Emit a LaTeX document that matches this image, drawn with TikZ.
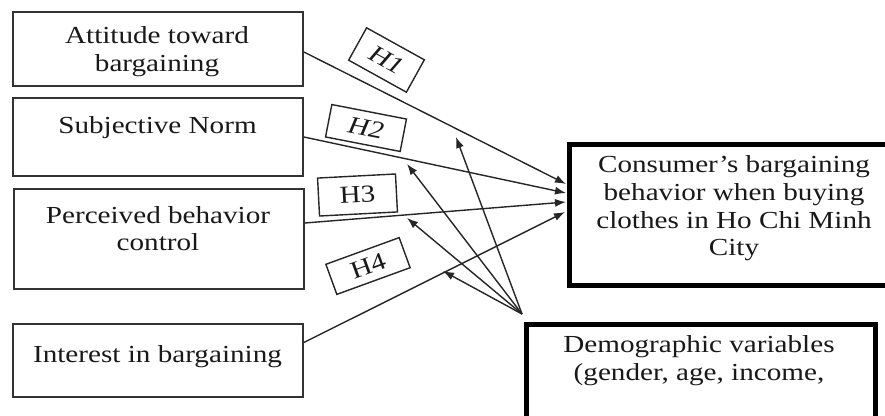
\documentclass[tikz,border=0pt]{standalone}
\usepackage{fontspec}
\setmainfont[FakeStretch=1.19]{Liberation Serif}
\usetikzlibrary{arrows.meta,calc}
\begin{document}
\begin{tikzpicture}[x=1pt,y=-1pt,
  lbox/.style={draw=black!80, line width=1.8pt, rectangle, inner sep=0pt},
  rbox/.style={draw=black, line width=5pt, rectangle, inner sep=0pt},
  hbox/.style={draw=black!85, line width=1.4pt, rectangle, inner sep=0pt, text=black!90, font=\fontsize{24.5}{29}\selectfont},
  txt/.style={anchor=base, inner sep=0pt, text=black!90, font=\fontsize{24.5}{29}\selectfont},
  arr/.style={draw=black!85, line width=1.4pt, -{Latex[length=11pt,width=8pt]}}]
\useasboundingbox (0,0) rectangle (885,415);
\clip (0,0) rectangle (885,415);
\fill[white] (0,0) rectangle (885,415);

% left boxes
\node[lbox, minimum width=290, minimum height=74] (b1) at (158,49) {};
\node[lbox, minimum width=290, minimum height=78] (b2) at (158,137) {};
\node[lbox, minimum width=290, minimum height=100] (b3) at (159,239) {};
\node[lbox, minimum width=290, minimum height=73] (b4) at (158,360.5) {};

% right boxes
\node[rbox, minimum width=330.5, minimum height=141] (c) at (734.75,215) {};
\node[rbox, minimum width=348.5, minimum height=115.5] (d) at (700.75,382.25) {};

% texts
\node[txt] (l1a) at (157,43) {Attitude toward};
\node[txt] (l1b) at (157,71.7) {bargaining};
\node[txt] (l2) at (157.5,133) {Subjective Norm};
\node[txt] (l3a) at (158,223) {Perceived behavior};
\node[txt] (l3b) at (158,250) {control};
\node[txt] (l4) at (157.5,362) {Interest in bargaining};
\node[txt] (lc1) at (734,172) {Consumer’s bargaining};
\node[txt] (lc2) at (734,200) {behavior when buying};
\node[txt] (lc3) at (734,228) {clothes in Ho Chi Minh};
\node[txt] (lc4) at (734,255) {City};
\node[txt] (ld1) at (699,352) {Demographic variables};
\node[txt] (ld2) at (699,380) {(gender, age, income,};

% hypothesis labels
\node[hbox, minimum width=66, minimum height=37, rotate=-29] (h1) at (386.5,60) {\itshape H1};
\node[hbox, minimum width=76, minimum height=33, rotate=-11] (h2) at (366,128) {\itshape H2};
\node[hbox, minimum width=78, minimum height=38, rotate=3] (h3) at (357.5,195) {H3};
\node[hbox, minimum width=78, minimum height=32, rotate=20] (h4) at (368,266) {H4};

% target points
\coordinate (t1) at (566,184);
\coordinate (t2) at (566,193);
\coordinate (t3) at (566,202);
\coordinate (t4) at (565,212);
\coordinate (s) at ($(d.north west)+(-2,-8)$);
\coordinate (a1) at (456,137);
\coordinate (a2) at (407,164);
\coordinate (a3) at (407,218);
\coordinate (a4) at (443,271);

% hypothesis arrows
\draw[arr] ($(b1.east)+(0,3)$) -- (t1);
\draw[arr] (b2.east) -- (t2);
\draw[arr] ($(b3.east)+(0,-16)$) -- (t3);
\draw[arr] ($(b4.east)+(0,-18)$) -- (t4);

% moderator arrows
\draw[arr] (s) -- (a1);
\draw[arr] (s) -- (a2);
\draw[arr] (s) -- (a3);
\draw[arr] (s) -- (a4);
\end{tikzpicture}
\end{document}
